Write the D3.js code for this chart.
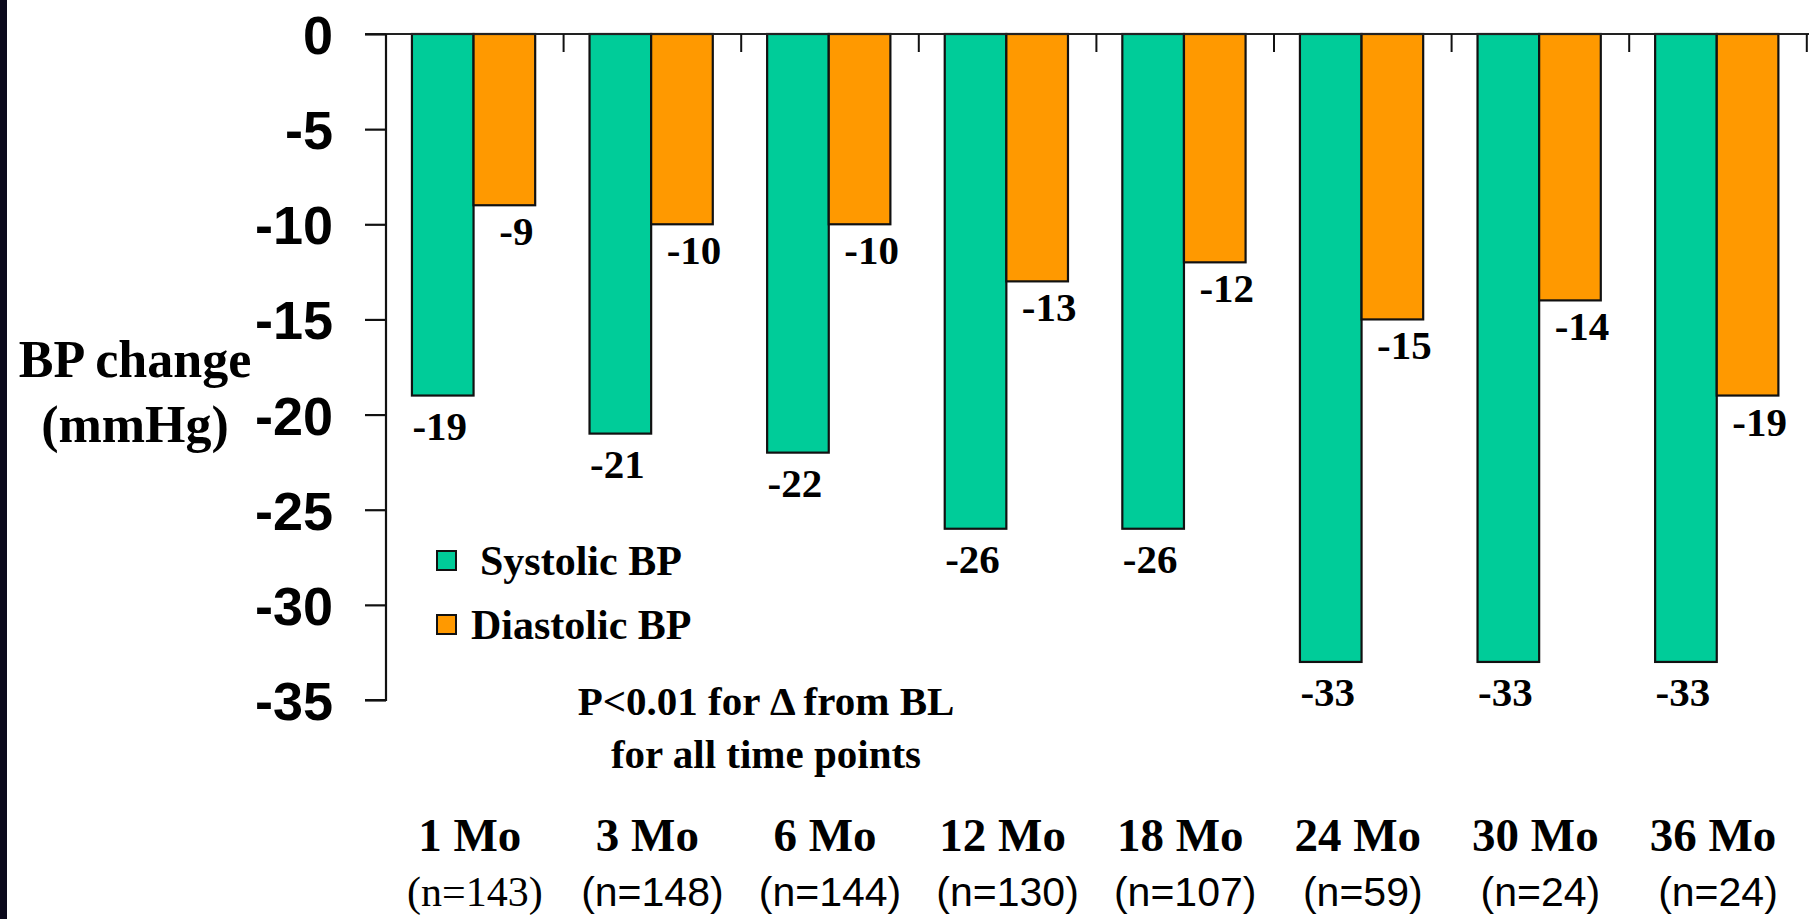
<!DOCTYPE html>
<html>
<head>
<meta charset="utf-8">
<script src="https://cdn.jsdelivr.net/npm/d3@7"></script>
<style>
  html, body { margin: 0; padding: 0; background: #ffffff; }
  svg { display: block; }
</style>
</head>
<body>
<svg id="chart" width="1809" height="919"></svg>
<script>
// Time points after baseline and the number of patients at each one
const categories = ["1 Mo", "3 Mo", "6 Mo", "12 Mo", "18 Mo", "24 Mo", "30 Mo", "36 Mo"];
const sampleSizes = ["(n=143)", "(n=148)", "(n=144)", "(n=130)", "(n=107)", "(n=59)", "(n=24)", "(n=24)"];

// Mean change from baseline, mmHg
const systolic = [-19, -21, -22, -26, -26, -33, -33, -33];
const diastolic = [-9, -10, -10, -13, -12, -15, -14, -19];

const seriesNames = ["Systolic BP", "Diastolic BP"];
const yTicks = [0, -5, -10, -15, -20, -25, -30, -35];

const colors = { "Systolic BP": "#00CC99", "Diastolic BP": "#FF9900" };
const SANS = "'Liberation Sans', Arial, sans-serif";
const SERIF = "'Liberation Serif', 'Times New Roman', serif";

const svg = d3.select("#chart");

// dark frame strip on the left edge
svg.append("rect").attr("x", 0).attr("y", 0).attr("width", 7).attr("height", 919).attr("fill", "#0b0a1c");

const plotLeft = 386, bandW = 177.6;
const x0 = d3.scaleBand().domain(categories).range([plotLeft, plotLeft + bandW * categories.length]).padding(0);
const x1 = d3.scaleBand().domain(seriesNames)
  .range([x0.bandwidth() * 0.146, x0.bandwidth() * 0.84]).padding(0);
const y = d3.scaleLinear().domain([0, -35]).range([34, 700]);

const rows = categories.map((c, i) => ({
  cat: c,
  values: [
    { key: "Systolic BP", value: systolic[i] },
    { key: "Diastolic BP", value: diastolic[i] }
  ]
}));

// bars
const groups = svg.append("g").selectAll("g").data(rows).join("g")
  .attr("transform", d => `translate(${x0(d.cat)},0)`);

groups.selectAll("rect").data(d => d.values).join("rect")
  .attr("x", d => x1(d.key))
  .attr("y", y(0))
  .attr("width", x1.bandwidth())
  .attr("height", d => y(d.value) - y(0))
  .attr("fill", d => colors[d.key])
  .attr("stroke", "#111")
  .attr("stroke-width", 2.2);

// value labels under each bar
groups.selectAll("text").data(d => d.values).join("text")
  .attr("x", d => x1(d.key) + x1.bandwidth() / 2 + (d.key === "Systolic BP" ? -3 : 12))
  .attr("y", d => y(d.value) + (d.key === "Systolic BP" ? 44 : 40))
  .attr("text-anchor", "middle")
  .attr("font-family", SERIF)
  .attr("font-weight", "bold")
  .attr("font-size", 41)
  .attr("fill", "#000")
  .text(d => d.value);

// top baseline with separators between time points
svg.append("line")
  .attr("x1", 365).attr("x2", 1809)
  .attr("y1", y(0)).attr("y2", y(0))
  .attr("stroke", "#222").attr("stroke-width", 2);

svg.append("g").selectAll("line").data(categories).join("line")
  .attr("x1", d => x0(d) + x0.bandwidth()).attr("x2", d => x0(d) + x0.bandwidth())
  .attr("y1", y(0)).attr("y2", y(0) + 18)
  .attr("stroke", "#111").attr("stroke-width", 2);

// y axis
const yAxis = d3.axisLeft(y).tickValues(yTicks).tickSize(21).tickPadding(32).tickFormat(d3.format("d"));
const yG = svg.append("g").attr("transform", `translate(${plotLeft},0)`).call(yAxis);
yG.select(".domain").attr("stroke", "#111").attr("stroke-width", 2.2).attr("d", `M-21,${y(-35)}H0V${y(0)}`);
yG.selectAll(".tick line").attr("stroke", "#111").attr("stroke-width", 2.2);
yG.selectAll(".tick text")
  .attr("font-family", SANS).attr("font-weight", "bold").attr("font-size", 54).attr("fill", "#000")
  .attr("dy", "0.36em")
  .text(d => d === 0 ? "0" : "-" + Math.abs(d));

// y axis title
const yTitle = svg.append("text")
  .attr("font-family", SERIF).attr("font-weight", "bold").attr("font-size", 52)
  .attr("text-anchor", "middle").attr("fill", "#000");
yTitle.append("tspan").attr("x", 135).attr("y", 377).text("BP change");
yTitle.append("tspan").attr("x", 135).attr("y", 442).text("(mmHg)");

// x labels: time point and sample size
svg.append("g").selectAll("text").data(categories).join("text")
  .attr("x", d => x0(d) + x0.bandwidth() / 2 - 5)
  .attr("y", 851)
  .attr("text-anchor", "middle")
  .attr("font-family", SERIF).attr("font-weight", "bold").attr("font-size", 47)
  .attr("fill", "#000")
  .text(d => d);

svg.append("g").selectAll("text").data(sampleSizes).join("text")
  .attr("x", (d, i) => x0(categories[i]) + x0.bandwidth() / 2)
  .attr("y", 906)
  .attr("text-anchor", "middle")
  .attr("font-family", (d, i) => i === 0 ? SERIF : SANS)
  .attr("font-size", (d, i) => i === 0 ? 42 : 41)
  .attr("fill", "#000")
  .text(d => d);

// legend
const legend = svg.append("g").selectAll("g").data(seriesNames).join("g")
  .attr("transform", (d, i) => `translate(437,${551 + i * 64})`);
legend.append("rect")
  .attr("width", 19).attr("height", 19)
  .attr("fill", d => colors[d]).attr("stroke", "#111").attr("stroke-width", 2);
legend.append("text")
  .attr("x", (d, i) => i === 0 ? 43 : 34)
  .attr("y", 24)
  .attr("font-family", SERIF).attr("font-weight", "bold").attr("font-size", 42)
  .attr("fill", "#000")
  .text(d => d);

// significance note
const note = svg.append("text")
  .attr("font-family", SERIF).attr("font-weight", "bold").attr("font-size", 41)
  .attr("text-anchor", "middle").attr("fill", "#000");
note.append("tspan").attr("x", 766).attr("y", 715).text("P<0.01 for \u0394 from BL");
note.append("tspan").attr("x", 766).attr("y", 768).text("for all time points");
</script>
</body>
</html>
